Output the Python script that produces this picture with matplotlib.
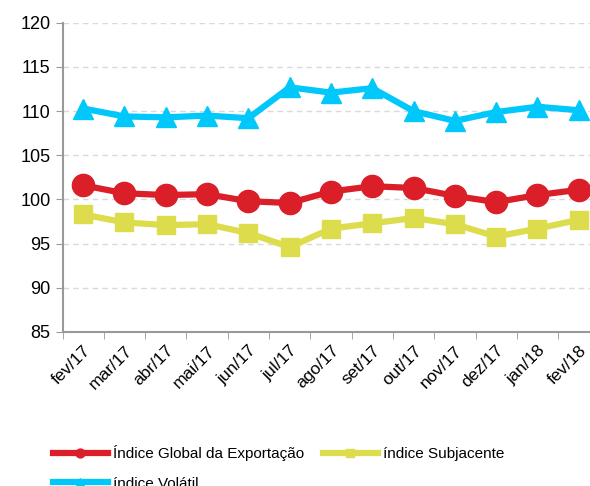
import numpy as np
import matplotlib
matplotlib.use("Agg")
import matplotlib.pyplot as plt

plt.rcParams['font.family'] = ['Liberation Sans', 'DejaVu Sans']

meses = ['fev/17', 'mar/17', 'abr/17', 'mai/17', 'jun/17', 'jul/17', 'ago/17',
         'set/17', 'out/17', 'nov/17', 'dez/17', 'jan/18', 'fev/18']
global_exp = [101.6, 100.7, 100.5, 100.6, 99.8, 99.6, 100.9, 101.5, 101.3, 100.4, 99.7, 100.5, 101.1]
subjacente = [98.3, 97.4, 97.1, 97.2, 96.2, 94.6, 96.7, 97.3, 97.9, 97.2, 95.8, 96.7, 97.7]
volatil = [110.3, 109.4, 109.3, 109.5, 109.2, 112.7, 112.1, 112.6, 110.0, 108.9, 109.9, 110.5, 110.1]

red = '#DA1F28'
yellow = '#DCDC4C'
blue = '#00C8FA'

fig = plt.figure(figsize=(5.9, 4.86), dpi=100)
ax = fig.add_axes([0.106, 0.317, 0.91, 0.636])

x = np.arange(len(meses))
l1, = ax.plot(x, global_exp, color=red, lw=4.5, marker='o', ms=16, label='Índice Global da Exportação')
l2, = ax.plot(x, subjacente, color=yellow, lw=4.5, marker='s', ms=13, label='índice Subjacente')
l3, = ax.plot(x, volatil, color=blue, lw=4.5, marker='^', ms=14, label='índice Volátil')

ax.set_ylim(85, 120)
ax.set_yticks(np.arange(85, 121, 5))
ax.set_xlim(-0.5, len(meses) - 0.5)
ax.set_xticks(x)
ax.set_xticklabels(meses, rotation=45, ha='right', rotation_mode='anchor')
ax.set_xticks(np.arange(-0.5, len(meses), 1), minor=True)
ax.tick_params(axis='x', which='major', length=0, pad=8, labelsize=12.5)
ax.tick_params(axis='x', which='minor', length=5, color='#999999')
ax.tick_params(axis='y', length=5, color='#999999', labelsize=13)

ax.grid(axis='y', ls=(0, (4, 3)), color='#d9d9d9', lw=1)
ax.set_axisbelow(True)
for s in ['top', 'right']:
    ax.spines[s].set_visible(False)
for s in ['left', 'bottom']:
    ax.spines[s].set_color('#999999')
    ax.spines[s].set_linewidth(1.5)

fig.legend(handles=[l1, l3, l2], loc='upper left', bbox_to_anchor=(0.079, 0.096), ncol=2,
           frameon=False, fontsize=11, handlelength=3.6, markerscale=0.4,
           labelspacing=1.0, columnspacing=1.2, handletextpad=0.35, borderaxespad=0)

fig.savefig('out.png', dpi=100)
